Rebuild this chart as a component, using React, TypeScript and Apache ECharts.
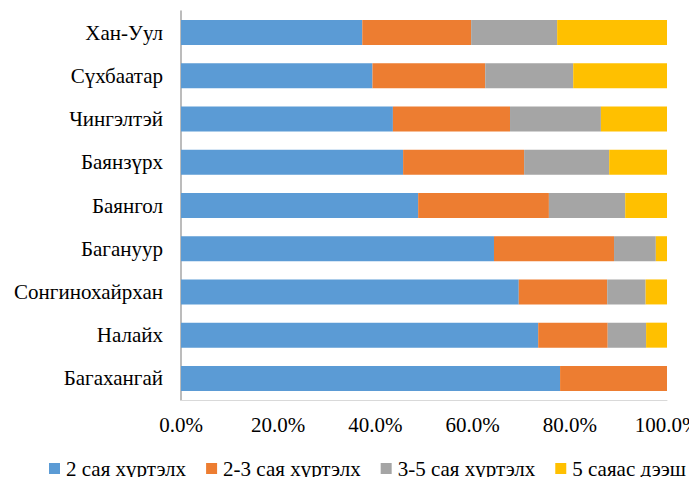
import React, { useEffect, useRef } from "react";
import * as echarts from "echarts";

const categories = [
  "Хан-Уул",
  "Сүхбаатар",
  "Чингэлтэй",
  "Баянзүрх",
  "Баянгол",
  "Багануур",
  "Сонгинохайрхан",
  "Налайх",
  "Багахангай",
];

const seriesNames = ["2 сая хүртэлх", "2-3 сая хүртэлх", "3-5 сая хүртэлх", "5 саяас дээш"];

const upTo2 = [37.3, 39.4, 43.6, 45.7, 48.8, 64.4, 69.5, 73.5, 78.0];
const from2to3 = [22.4, 23.2, 24.1, 24.9, 26.9, 24.7, 18.2, 14.3, 22.0];
const from3to5 = [17.7, 18.1, 18.7, 17.5, 15.7, 8.6, 7.9, 7.9, 0];
const over5 = [22.6, 19.3, 13.6, 11.9, 8.6, 2.3, 4.4, 4.3, 0];

const colors = ["#5B9BD5", "#ED7D31", "#A5A5A5", "#FFC000"];
const FONT = "Liberation Serif";
const FS = 21;

export default function App() {
  const ref = useRef<HTMLDivElement>(null);
  useEffect(() => {
    if (!ref.current) return;
    const chart = echarts.init(ref.current, undefined, { renderer: "svg" });
    const values = [upTo2, from2to3, from3to5, over5];
    chart.setOption({
      animation: false,
      color: colors,
      textStyle: { fontFamily: FONT },
      grid: { left: 173, right: 22, top: 3, bottom: 85, containLabel: false, outerBoundsMode: "none" },
      legend: {
        top: 450,
        left: 41,
        width: 670,
        padding: 0,
        itemWidth: 11,
        itemHeight: 11,
        itemGap: 20,
        icon: "rect",
        textStyle: { fontFamily: FONT, fontSize: FS, color: "#000", padding: [0, 0, 0, 1] },
        data: seriesNames,
      },
      xAxis: {
        type: "value",
        min: 0,
        max: 100,
        interval: 20,
        axisLine: { show: true, lineStyle: { color: "#d9d9d9", width: 1 } },
        axisTick: { show: false },
        splitLine: { show: false },
        axisLabel: {
          fontFamily: FONT,
          fontSize: FS,
          color: "#000",
          margin: 14,
          formatter: (v: number) => v.toFixed(1) + "%",
        },
      },
      yAxis: {
        type: "category",
        inverse: true,
        data: categories,
        axisLine: { show: true, lineStyle: { color: "#a6a6a6", width: 1.5 } },
        axisTick: { show: false },
        axisLabel: { fontFamily: FONT, fontSize: FS, color: "#000", margin: 18 },
      },
      series: seriesNames.map((name, i) => ({
        name,
        type: "bar",
        stack: "total",
        barWidth: 25,
        data: values[i],
        itemStyle: { color: colors[i] },
      })),
    });
    return () => chart.dispose();
  }, []);
  return <div ref={ref} style={{ width: 681, height: 477, marginBottom: -8 }} />;
}
